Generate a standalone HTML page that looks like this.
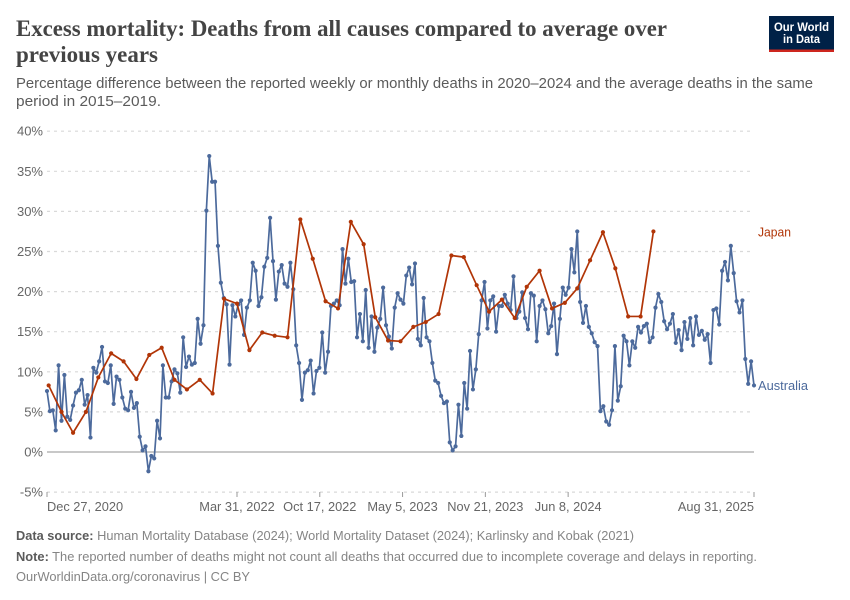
<!DOCTYPE html>
<html lang="en">
<head>
<meta charset="utf-8">
<title>Excess mortality: Deaths from all causes compared to average over previous years</title>
<style>
html,body{margin:0;padding:0;background:#fff;}
svg{display:block;font-family:"Liberation Sans",sans-serif;}
</style>
</head>
<body>
<svg id="chart" xmlns="http://www.w3.org/2000/svg" width="850" height="600" viewBox="0 0 850 600">
  <rect width="850" height="600" fill="#ffffff"/>
  <text x="16" y="36" font-family="'Liberation Serif',serif" font-weight="700" font-size="23.5" fill="#444" textLength="651" lengthAdjust="spacingAndGlyphs">Excess mortality: Deaths from all causes compared to average over</text>
  <text x="16" y="62" font-family="'Liberation Serif',serif" font-weight="700" font-size="23.5" fill="#444" textLength="142" lengthAdjust="spacingAndGlyphs">previous years</text>
  <text x="16" y="88" font-size="14.5" fill="#5b5b5b" textLength="797" lengthAdjust="spacingAndGlyphs">Percentage difference between the reported weekly or monthly deaths in 2020–2024 and the average deaths in the same</text>
  <text x="16" y="106" font-size="14.5" fill="#5b5b5b" textLength="145" lengthAdjust="spacingAndGlyphs">period in 2015–2019.</text>

  <g>
    <rect x="769" y="16" width="65" height="36" fill="#002147"/>
    <rect x="769" y="49.5" width="65" height="2.5" fill="#ce261e"/>
    <text x="801.5" y="31" text-anchor="middle" font-size="12" font-weight="700" fill="#fff" textLength="55" lengthAdjust="spacingAndGlyphs">Our World</text>
    <text x="801.5" y="43" text-anchor="middle" font-size="12" font-weight="700" fill="#fff" textLength="37" lengthAdjust="spacingAndGlyphs">in Data</text>
  </g>

  <g id="y-axis"></g>
  <g id="x-axis"></g>
  <g id="series"></g>

  <text x="16" y="540" font-size="13" fill="#858585" textLength="618" lengthAdjust="spacingAndGlyphs"><tspan font-weight="700" fill="#5b5b5b">Data source:</tspan> Human Mortality Database (2024); World Mortality Dataset (2024); Karlinsky and Kobak (2021)</text>
  <text x="16" y="561" font-size="13" fill="#858585" textLength="741" lengthAdjust="spacingAndGlyphs"><tspan font-weight="700" fill="#5b5b5b">Note:</tspan> The reported number of deaths might not count all deaths that occurred due to incomplete coverage and delays in reporting.</text>
  <text x="16" y="581" font-size="13" fill="#858585" textLength="234" lengthAdjust="spacingAndGlyphs">OurWorldinData.org/coronavirus | CC BY</text>
</svg>
<script>
const yTickValues = [-5, 0, 5, 10, 15, 20, 25, 30, 35, 40];
const xTickDates = ["2020-12-27", "2022-03-31", "2022-10-17", "2023-05-05", "2023-11-21", "2024-06-08", "2025-08-31"];
const xTickLabels = ["Dec 27, 2020", "Mar 31, 2022", "Oct 17, 2022", "May 5, 2023", "Nov 21, 2023", "Jun 8, 2024", "Aug 31, 2025"];
const australiaValues = [
  7.6,5.1,5.2,2.7,10.8,3.9,9.6,4.4,4.0,5.8,
  7.4,7.7,9.0,5.9,7.1,1.8,10.5,9.9,11.3,13.1,
  8.8,8.6,10.8,6.0,9.4,9.0,6.8,5.4,5.2,7.5,
  5.5,6.1,1.9,0.2,0.7,-2.4,-0.5,-0.8,3.9,1.7,
  10.8,6.8,6.8,8.8,10.3,9.8,7.4,14.3,10.6,11.9,
  10.9,11.1,16.6,13.5,15.8,30.1,36.9,33.7,33.7,25.7,
  21.1,19.2,18.4,10.9,18.3,16.9,18.4,18.9,14.6,18.0,
  18.9,23.6,22.6,18.2,19.3,23.1,24.2,29.2,23.8,19.0,
  22.5,23.3,21.0,20.6,23.6,20.3,13.3,11.1,6.5,9.9,
  10.2,11.4,7.3,10.1,10.5,14.9,9.9,12.5,18.2,18.5,
  18.9,18.3,25.3,21.0,24.1,21.2,21.3,14.3,17.2,13.8,
  20.2,13.0,16.9,12.5,15.5,16.6,20.5,15.8,14.4,12.9,
  18.0,19.8,19.0,18.5,22.0,23.0,20.9,23.5,14.1,13.3,
  19.2,14.3,13.8,11.1,8.9,8.6,7.0,6.1,6.3,1.2,
  0.2,0.7,5.9,2.0,8.6,5.4,12.6,7.8,10.3,14.7,
  18.9,21.2,15.4,18.9,19.4,15.0,18.2,18.2,19.6,18.5,
  17.7,21.9,16.7,17.5,19.9,16.7,15.3,19.8,19.5,13.8,
  18.2,18.9,17.8,14.8,15.7,18.5,12.2,16.6,20.5,19.6,
  20.5,25.3,22.4,27.5,18.7,16.1,18.2,15.6,14.8,13.7,
  13.2,5.1,5.7,3.8,3.4,5.2,13.2,6.4,8.2,14.5,
  13.8,10.8,13.8,13.0,15.6,14.9,15.7,16.0,13.7,14.3,
  18.0,19.7,18.7,16.3,15.3,16.0,17.2,13.6,15.2,12.7,
  16.2,14.1,16.7,13.3,16.9,14.6,15.1,14.0,14.7,11.1,
  17.7,17.9,15.9,22.6,23.7,21.4,25.7,22.3,18.8,17.4,
  18.9,11.6,8.5,11.3,8.3
];
const japanValues = [
  8.3,5.0,2.4,5.0,9.3,12.3,11.3,9.1,12.1,13.0,
  9.0,7.8,9.0,7.3,19.1,18.5,12.7,14.9,14.5,14.3,
  29.0,24.1,18.8,17.9,28.7,25.9,16.8,13.9,13.8,15.6,
  16.2,17.2,24.5,24.3,20.8,17.5,19.0,16.7,20.6,22.6,
  17.9,18.6,20.4,23.9,27.4,22.9,16.9,16.9,27.5
];

const SVG_NS = "http://www.w3.org/2000/svg";
const startTime = Date.UTC(2020, 11, 27);
const endTime = Date.UTC(2025, 7, 31);
const australiaTimes = australiaValues.map((v, i) => startTime + i * 7 * 86400000);
const japanTimes = japanValues.map((v, i) => Date.UTC(2020, 12 + i, 0));

function xScale(t) { return 47 + (t - startTime) / (endTime - startTime) * (754 - 47); }
function yScale(v) { return 452 - v * 8.02; }
function make(tag, attrs) {
  const el = document.createElementNS(SVG_NS, tag);
  for (const k in attrs) el.setAttribute(k, attrs[k]);
  return el;
}

const yAxis = document.getElementById("y-axis");
yTickValues.forEach(v => {
  const line = make("line", { x1: 47, x2: 754, y1: yScale(v), y2: yScale(v),
    stroke: v === 0 ? "#a8a8a8" : "#d9d9d9",
    "stroke-width": v === 0 ? 1.3 : 1.2,
    "stroke-dasharray": v === 0 ? "none" : "3,4" });
  
  
  yAxis.appendChild(line);
  const label = make("text", { x: 43, y: yScale(v) + 4.5, "text-anchor": "end", "font-size": 13, fill: "#666666" });
  
  
  label.textContent = v + "%";
  yAxis.appendChild(label);
});

const xAxis = document.getElementById("x-axis");
xTickDates.forEach((d, i) => {
  const px = xScale(Date.parse(d + "T00:00:00Z"));
  const tick = make("line", { x1: px, x2: px, y1: 492, y2: 497, stroke: "#999999", "stroke-width": 1 });
  
  
  xAxis.appendChild(tick);
  const anchor = i === 0 ? "start" : (i === xTickDates.length - 1 ? "end" : "middle");
  const label = make("text", { x: px, y: 511, "text-anchor": anchor, "font-size": 12.8, fill: "#666666" });
  
  
  label.textContent = xTickLabels[i];
  xAxis.appendChild(label);
});

function drawSeries(name, times, values, color) {
  const group = make("g", {});
  
  
  const pts = values.map((v, i) => xScale(times[i]).toFixed(2) + "," + yScale(v).toFixed(2)).join(" ");
  const line = make("polyline", { points: pts, fill: "none", stroke: color, "stroke-width": 1.7, "stroke-linejoin": "round" });
  
  
  group.appendChild(line);
  values.forEach((v, i) => {
    const dot = make("circle", { cx: xScale(times[i]), cy: yScale(v), r: 2.1, fill: color });
    
    
    group.appendChild(dot);
  });
  document.getElementById("series").appendChild(group);
  const last = values.length - 1;
  return { x: xScale(times[last]), y: yScale(values[last]) };
}

const ausEnd = drawSeries("australia", australiaTimes, australiaValues, "#4c6a9c");
const japEnd = drawSeries("japan", japanTimes, japanValues, "#b13507");

const seriesLayer = document.getElementById("series");
const ausLabel = make("text", { x: 758, y: ausEnd.y + 4.5, "font-size": 12.5, fill: "#4c6a9c", textLength: 50, lengthAdjust: "spacingAndGlyphs" });


ausLabel.textContent = "Australia";
seriesLayer.appendChild(ausLabel);
const japLabel = make("text", { x: 758, y: japEnd.y + 5, "font-size": 12.5, fill: "#b13507", textLength: 33, lengthAdjust: "spacingAndGlyphs" });


japLabel.textContent = "Japan";
seriesLayer.appendChild(japLabel);
</script>
</body>
</html>
